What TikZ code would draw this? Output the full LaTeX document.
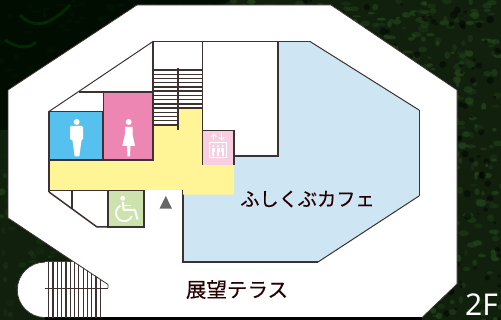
\documentclass[tikz,border=0pt]{standalone}
\usetikzlibrary{arrows.meta}
\usepackage{fontspec}
\newfontfamily\cjk[FakeBold=0.35]{Noto Sans CJK JP}
\newfontfamily\lat{Noto Sans}
\definecolor{wall}{HTML}{3E3230}
\definecolor{menc}{HTML}{56C1EF}
\definecolor{womenc}{HTML}{EE86B3}
\definecolor{corr}{HTML}{FFF597}
\definecolor{cafe}{HTML}{CEE5F3}
\definecolor{evc}{HTML}{F7CFE0}
\definecolor{wcc}{HTML}{CDE3AE}
\definecolor{leaf}{HTML}{24431C}
\definecolor{leafb}{HTML}{10200D}
\tikzset{
  wallline/.style={draw=wall,line width=1.5pt},
  thinwall/.style={draw=wall,line width=1pt},
  rail/.style={draw=wall,line width=1.4pt},
  lowrail/.style={draw=wall,line width=1.2pt},
  label/.style={text=black!85!red,inner sep=0pt},
  icon/.style={fill=white,draw=none},
}
\begin{document}
\begin{tikzpicture}[x=1pt,y=-1pt]
\useasboundingbox (0,0) rectangle (501,320);
\begin{scope}
\clip (0,0) rectangle (501,320);
\fill[leafb] (0,0) rectangle (501,320);
\fill[black!95!green] (0,0) -- (230,0) -- (60,130) -- (0,130) -- cycle;
% foliage
\pgfmathsetseed{7}
\foreach \i in {1,...,1400}{
  \pgfmathsetmacro{\xx}{rnd*501}
  \pgfmathsetmacro{\yy}{rnd*320}
  \pgfmathsetmacro{\rr}{1.5+rnd*4}
  \pgfmathsetmacro{\rs}{1+rnd*3}
  \pgfmathsetmacro{\op}{(\xx+\yy*1.3<230) ? 0.08 : ((\xx<200 && \yy>200) ? (0.15+0.25*rnd) : (0.3+0.5*rnd))}
  \fill[leaf,opacity=\op] (\xx,\yy) ellipse [x radius=\rr pt,y radius=\rs pt];
}
\foreach \i in {1,...,300}{
  \pgfmathsetmacro{\xx}{230+rnd*271}
  \pgfmathsetmacro{\yy}{rnd*320}
  \pgfmathsetmacro{\rr}{1+rnd*3}
  \fill[black,opacity=.45] (\xx,\yy) circle [radius=\rr pt];
}
\draw[leafb!80!green,line width=3pt,opacity=.4] (5,40) .. controls (20,50) and (30,48) .. (36,42);
\draw[leafb!80!green,line width=3pt,opacity=.4] (20,15) .. controls (35,30) and (50,25) .. (70,5);
% outer floor
\filldraw[fill=white,draw=wall,line width=0.7pt]
  (137,5) -- (331,5) -- (457,90) -- (457,284) -- (422,317.5) -- (45,317.5)
  arc[start angle=90,end angle=270,radius=27.7] -- (74,262) -- (8,218) -- (8,90) -- cycle;
\fill[white] (74,262) -- (108,284.5) -- (108,288) -- (101,288) -- (101,317) -- (45,317) -- (45,262) -- cycle;
\draw[wall,line width=0.8pt] (74,262) -- (108,284.5) -- (108,288);
\fill[black] (45,317.5) rectangle (422,320);
% cafe
\fill[cafe] (278,41.5) -- (310,41.5) -- (419,110) -- (419,196) -- (318,262) -- (183,262) -- (183,190) -- (234,190) -- (234,155) -- (278,155) -- cycle;
\draw[thinwall] (419,110) -- (419,196);
\draw[thinwall] (310,41.5) -- (419,110);
\draw[thinwall] (419,196) -- (318,262);
\draw[wallline] (318,262) -- (183,262) -- (183,190);
% corridor
\fill[corr] (49,160) -- (153,160) -- (153,125.5) -- (178,125.5) -- (178,108) -- (202.5,108) -- (202.5,165) -- (234,165) -- (234,194.7) -- (183,194.7) -- (183,190) -- (49,190) -- cycle;
% toilets
\filldraw[fill=menc,wallline] (49,111.5) rectangle (103,160);
\filldraw[fill=womenc,wallline] (103.5,92) rectangle (153,160);
% ev
\filldraw[fill=evc,wallline] (202.5,165) -- (202.5,130.5) -- (234,130.5) -- (234,165);
% walls
\draw[wallline] (202.5,41.5) -- (202.5,130.5);
\draw[wallline] (153,41.5) -- (310,41.5);
\draw[wallline] (278,41.5) -- (278,155.8) -- (234,155.8);
\draw[wallline] (153,41.5) -- (153,125);
\draw[thinwall] (153,41.5) -- (49,111.5);
\draw[wallline] (79,92) -- (103.5,92);
\draw[wallline] (49,160) -- (49,192);
% stairs
\foreach \k in {0,...,13}{
  \pgfmathsetmacro{\yy}{70+\k*4.23}
  \draw[rail] (153,\yy) -- (178,\yy);
}
\foreach \k in {0,...,9}{
  \pgfmathsetmacro{\yy}{70+\k*4.23}
  \draw[rail] (178,\yy) -- (202.5,\yy);
}
\draw[wallline,line width=1.7pt] (178,68) -- (178,130.5);
% lower rooms
\filldraw[fill=wcc,wallline] (108,190.5) rectangle (144,227);
\draw[wallline] (49,192) -- (97,227) -- (108,227);
\draw[wallline] (72,190) -- (72,209.5);
\draw[wallline] (49,190.5) -- (108,190.5);
% lower stairs
\begin{scope}
\clip (74,261.5) -- (108,284) -- (108,318) -- (40,318) -- (40,261.5) -- cycle;
\foreach \k in {0,...,12}{
  \pgfmathsetmacro{\xx}{48.7+\k*4.3}
  \draw[lowrail] (\xx,262) -- (\xx,318);
}
\end{scope}
\draw[lowrail] (44.5,288.3) -- (108,288.3);
% triangle
\fill[black!60] (159.5,208.7) -- (172,208.7) -- (165.8,196) -- cycle;
% man
\fill[icon] (76.7,122) circle (3);
\fill[icon] (70,127.5) -- (71,126) -- (82,126) -- (83,127.5) -- (83,139) -- (81.5,140.5) -- (79.3,156.5) -- (74.7,156.5) -- (72.5,140.5) -- (70,139) -- cycle;
% woman
\fill[icon] (128.7,122) circle (3);
\fill[icon] (125,127) -- (132.5,127) -- (132.5,134) -- (135,145.8) -- (130.5,145.8) -- (130,156.5) -- (127.5,156.5) -- (127,145.8) -- (122.4,145.8) -- (125,134) -- cycle;
% elevator
\draw[white,line width=1pt] (209.6,142.2) rectangle (226.4,157.2);
\foreach \xx in {213.4,218,222.6}{
  \fill[white] (\xx,146.2) circle (1.1);
  \fill[white] (\xx-1.5,147.8) rectangle (\xx+1.5,152);
  \fill[white] (\xx-1,152) rectangle (\xx+1,155.8);
}
\draw[white,line width=1pt,-{Straight Barb[length=2.5pt,width=5pt]}] (213.8,140.5) -- (213.8,133.5);
\draw[white,line width=1pt,-{Straight Barb[length=2.5pt,width=5pt]}] (221.8,133.5) -- (221.8,140.5);
% wheelchair
\fill[white] (122.7,198.3) circle (2.4);
\draw[white,line width=2pt,line join=round] (122.7,202) -- (123.7,210) -- (135,210) -- (137.5,219.5);
\draw[white,line width=1.5pt] (123,205.5) -- (131,205.5);
\draw[white,line width=1.8pt] (124.2,213) ++(-118:8.2) arc[start angle=-118,end angle=-338,radius=8.2];
\end{scope}
\node[label,font=\cjk\fontsize{19.2}{20}\selectfont] (cafetext) at (307.5,199) {ふしくぶカフェ};
\node[label,font=\cjk\fontsize{20.5}{21}\selectfont] (terrace) at (237,289.5) {展望テラス};
\node[font=\lat\fontsize{30}{30}\selectfont,text=white,inner sep=0pt,anchor=base] (floor) at (481.5,316) {2F};
\end{tikzpicture}
\end{document}
